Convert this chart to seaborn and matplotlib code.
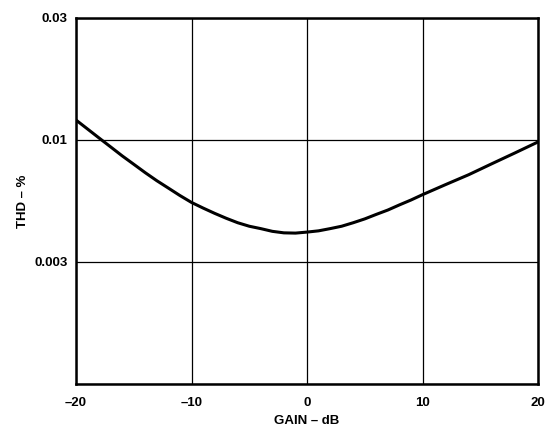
import numpy as np
import pandas as pd
import matplotlib
matplotlib.use("Agg")
import matplotlib.pyplot as plt
import seaborn as sns

# Data
gain_db = [-20, -19, -18, -17, -16, -15, -14, -13, -12, -11, -10, -9, -8, -7, -6, -5, -4, -3, -2, -1, 0,
           1, 2, 3, 4, 5, 6, 7, 8, 9, 10, 12, 14, 16, 18, 20]
thd_pct = [0.01197, 0.01104, 0.01018, 0.00934, 0.00855, 0.00787, 0.00724, 0.00669, 0.00622, 0.00578,
           0.00540, 0.00511, 0.00485, 0.00462, 0.00442, 0.00427, 0.00417, 0.00406, 0.00400, 0.00399, 0.00403,
           0.00408, 0.00417, 0.00427, 0.00442, 0.00459, 0.00480, 0.00501, 0.00527, 0.00553, 0.00583,
           0.00644, 0.00710, 0.00791, 0.00880, 0.00981]

y_ticks = [0.001, 0.003, 0.01, 0.03]
y_tick_labels = ["", "0.003", "0.01", "0.03"]
x_ticks = [-20, -10, 0, 10, 20]
x_tick_labels = ["\u201320", "\u201310", "0", "10", "20"]

df = pd.DataFrame({"gain": gain_db, "thd": thd_pct})

sns.set_theme(style="white")
plt.rcParams['font.family'] = ['Liberation Sans', 'DejaVu Sans']

fig = plt.figure(figsize=(5.53, 4.28), dpi=100)
ax = fig.add_axes([76/553, 1 - 384/428, (538 - 76)/553, (384 - 18)/428])

# Equal-spaced log grid (as in the datasheet plot)
lt = np.log10(y_ticks)
pos = np.arange(len(y_ticks), dtype=float)

def fwd(v):
    v = np.clip(np.asarray(v, dtype=float), 1e-12, None)
    return np.interp(np.log10(v), lt, pos)

def inv(p):
    return 10 ** np.interp(np.asarray(p, dtype=float), pos, lt)

ax.set_yscale('function', functions=(fwd, inv))

sns.lineplot(data=df, x="gain", y="thd", ax=ax, color="black", linewidth=2.2)

ax.set_xlim(-20, 20)
ax.set_ylim(0.001, 0.03)
ax.set_xticks(x_ticks)
ax.set_xticklabels(x_tick_labels)
ax.set_yticks(y_ticks)
ax.set_yticklabels(y_tick_labels)
ax.yaxis.set_minor_locator(matplotlib.ticker.NullLocator())

ax.grid(True, color="black", linewidth=0.9)
ax.set_axisbelow(True)
for s in ax.spines.values():
    s.set_visible(True)
    s.set_color("black")
    s.set_linewidth(1.8)

ax.tick_params(axis="x", length=0, pad=9, labelsize=9.5, colors="black")
ax.tick_params(axis="y", length=0, pad=6, labelsize=9.5, colors="black")
for lbl in ax.get_xticklabels() + ax.get_yticklabels():
    lbl.set_fontweight("bold")

ax.set_xlabel("GAIN \u2013 dB", fontsize=9.5, fontweight="bold", color="black", labelpad=5)
ax.set_ylabel("THD \u2013 %", fontsize=9.5, fontweight="bold", color="black", labelpad=4)

fig.savefig("out.png", dpi=100, facecolor="white")
